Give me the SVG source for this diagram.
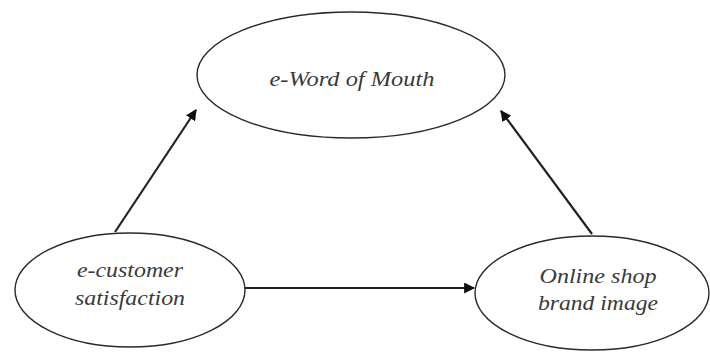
<svg xmlns="http://www.w3.org/2000/svg" width="710" height="352" viewBox="0 0 710 352">
  <style>
    .node ellipse { fill: #ffffff; stroke: #2a2a2a; stroke-width: 1.4; }
    .node text { font-family: "Liberation Serif", serif; font-style: italic; font-size: 21px; fill: #3a3a3a; text-anchor: middle; }
    .edge { stroke: #222222; stroke-width: 2.2; fill: none; marker-end: url(#arrow); }
  </style>
  <defs>
    <marker id="arrow" viewBox="0 0 10 10" refX="9" refY="5" markerWidth="5" markerHeight="5" orient="auto" markerUnits="strokeWidth">
      <path d="M0,0 L10,5 L0,10 Z" fill="#111111"/>
    </marker>
  </defs>
  <rect width="710" height="352" fill="#ffffff"/>

  <g id="connectors">
    <line class="edge" x1="115" y1="232" x2="196" y2="110"/>
    <line class="edge" x1="592" y1="234" x2="501" y2="111"/>
    <line class="edge" x1="245" y1="288" x2="474" y2="288"/>
  </g>

  <g id="ewom" class="node">
    <ellipse cx="351" cy="75" rx="154" ry="63"/>
    <text x="352" y="86" textLength="165" lengthAdjust="spacingAndGlyphs">e-Word of Mouth</text>
  </g>

  <g id="satisfaction" class="node">
    <ellipse cx="130" cy="290" rx="115" ry="57"/>
    <text x="130" y="277" textLength="106" lengthAdjust="spacingAndGlyphs">e-customer</text>
    <text x="130" y="305" textLength="110" lengthAdjust="spacingAndGlyphs">satisfaction</text>
  </g>

  <g id="brand" class="node">
    <ellipse cx="592" cy="293" rx="117" ry="57"/>
    <text x="598" y="283" textLength="117" lengthAdjust="spacingAndGlyphs">Online shop</text>
    <text x="598" y="310" textLength="120" lengthAdjust="spacingAndGlyphs">brand image</text>
  </g>
</svg>
